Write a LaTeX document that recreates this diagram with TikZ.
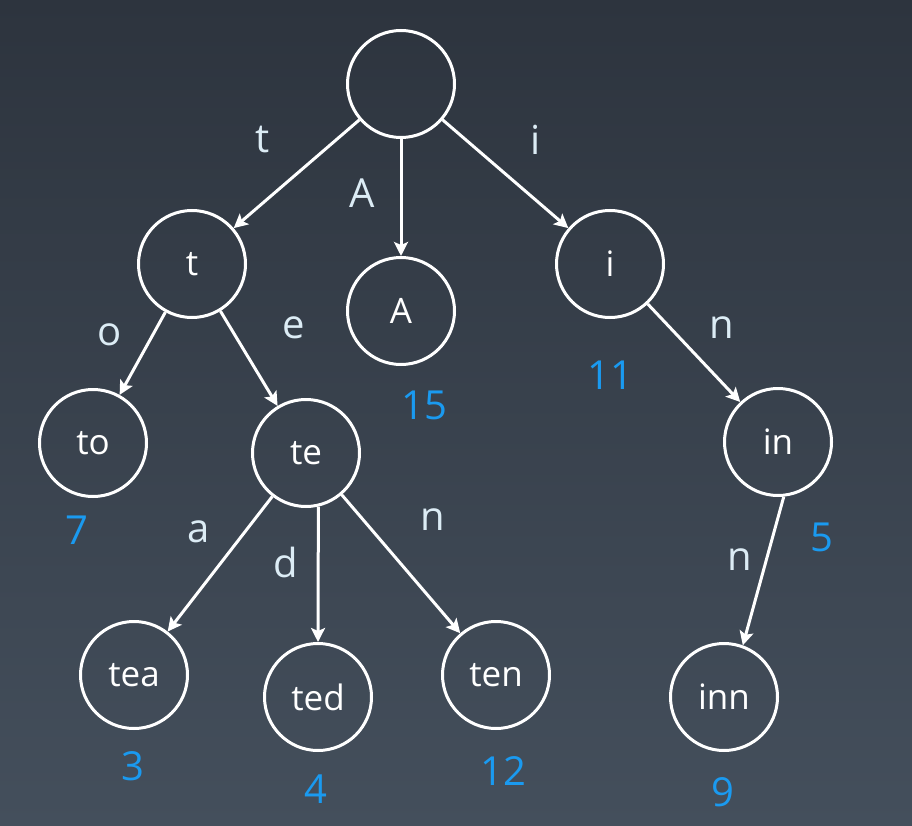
\documentclass[tikz,border=0pt]{standalone}
\usepackage{fontspec}
\setmainfont{Open Sans}
\usetikzlibrary{arrows.meta}
\definecolor{bgtop}{HTML}{2D343E}
\definecolor{bgbot}{HTML}{444F5C}
\definecolor{lbl}{HTML}{DCECF5}
\definecolor{cnt}{HTML}{1A9AF0}
\begin{document}
\begin{tikzpicture}[
    x=1pt,y=-1pt,
    line width=3pt,
    trie/.style={circle,draw=white,minimum size=107pt,inner sep=0pt,text=white,font=\fontsize{35}{35}\selectfont},
    edge/.style={draw=white,-{Stealth[length=14pt,width=14pt,inset=3pt]}},
    letter/.style={text=lbl,font=\fontsize{40}{40}\selectfont},
    count/.style={text=cnt,font=\fontsize{40}{40}\selectfont}
]
    \shade[top color=bgtop,bottom color=bgbot] (0,0) rectangle (912,826);
    \useasboundingbox (0,0) rectangle (912,826);
    \node[trie] (root) at (401,84) {};
    \node[trie] (t) at (192,264) {t};
    \node[trie] (A) at (401,311) {A};
    \node[trie] (i) at (610,264) {i};
    \node[trie] (to) at (93,443) {to};
    \node[trie] (te) at (306,453) {te};
    \node[trie] (in) at (778,442) {in};
    \node[trie] (tea) at (134,675) {tea};
    \node[trie] (ted) at (318,697) {ted};
    \node[trie] (ten) at (496,675) {ten};
    \node[trie] (inn) at (724,697) {inn};
    \draw[edge] (root)--(t);
    \draw[edge] (root)--(A);
    \draw[edge] (root)--(i);
    \draw[edge] (t)--(to);
    \draw[edge] (t)--(te);
    \draw[edge] (i)--(in);
    \draw[edge] (te)--(tea);
    \draw[edge] (te.-77)--(ted.north);
    \draw[edge] (te)--(ten);
    \draw[edge] (in.-84)--(inn.70);
    % edge letters
    \node[letter] (lt) at (263,140) {t};
    \node[letter] (lA) at (362,193) {A};
    \node[letter] (li) at (536,140) {i};
    \node[letter] (lo) at (110,335) {o};
    \node[letter] (le) at (294,328) {e};
    \node[letter] (lin) at (722,328) {n};
    \node[letter] (la) at (199,532) {a};
    \node[letter] (ld) at (286,562) {d};
    \node[letter] (ln) at (433,520) {n};
    \node[letter] (linn) at (740,560) {n};
    % counts
    \node[count] (cA) at (424,405) {15};
    \node[count] (ci) at (610,375) {11};
    \node[count] (cto) at (77,530) {7};
    \node[count] (cin) at (822,537) {5};
    \node[count] (ctea) at (133,766) {3};
    \node[count] (cted) at (316,789) {4};
    \node[count] (cten) at (503,771) {12};
    \node[count] (cinn) at (723,792) {9};
\end{tikzpicture}
\end{document}
